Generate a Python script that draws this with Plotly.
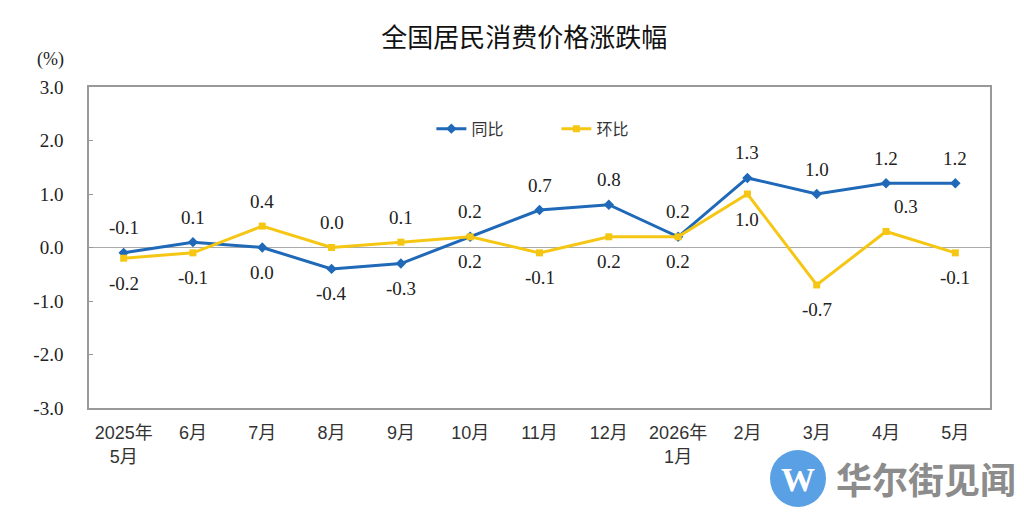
import plotly.graph_objects as go

categories = ["2025年<br>5月", "6月", "7月", "8月", "9月", "10月", "11月", "12月",
              "2026年<br>1月", "2月", "3月", "4月", "5月"]
yoy = [-0.1, 0.1, 0.0, -0.4, -0.3, 0.2, 0.7, 0.8, 0.2, 1.3, 1.0, 1.2, 1.2]
mom = [-0.2, -0.1, 0.4, 0.0, 0.1, 0.2, -0.1, 0.2, 0.2, 1.0, -0.7, 0.3, -0.1]
# label placement: +1 above the point, -1 below
yoy_side = [1, 1, -1, -1, -1, 1, 1, 1, 1, 1, 1, 1, 1]
mom_side = [-1, -1, 1, 1, 1, -1, -1, -1, -1, -1, -1, 1, -1]
mom_xshift = [0, 0, 0, 0, 0, 0, 0, 0, 0, 0, 0, 20, 0]
y_ticks = [3.0, 2.0, 1.0, 0.0, -1.0, -2.0, -3.0]

BLUE = "#1F69B8"
YELLOW = "#F5C714"
SERIF = "Liberation Serif, Noto Sans CJK SC"
SANS = "Liberation Sans, Noto Sans CJK SC"

x = list(range(len(categories)))
fig = go.Figure()
fig.add_trace(go.Scatter(
    x=x, y=yoy, name="同比", mode="lines+markers",
    line=dict(color=BLUE, width=3), marker=dict(symbol="diamond", size=8, color=BLUE)))
fig.add_trace(go.Scatter(
    x=x, y=mom, name="环比", mode="lines+markers",
    line=dict(color=YELLOW, width=3), marker=dict(symbol="square", size=7, color=YELLOW)))

for xi, v, s in zip(x, yoy, yoy_side):
    fig.add_annotation(x=xi, y=v, text=f"{v:.1f}", showarrow=False, yshift=25 * s,
                       font=dict(family=SERIF, size=19, color="#222"))
for xi, v, s, xs in zip(x, mom, mom_side, mom_xshift):
    fig.add_annotation(x=xi, y=v, text=f"{v:.1f}", showarrow=False, yshift=25 * s,
                       xshift=xs, font=dict(family=SERIF, size=19, color="#222"))

fig.update_layout(
    width=1024, height=516,
    margin=dict(l=89, r=34, t=87, b=108),
    paper_bgcolor="white", plot_bgcolor="white",
    title=dict(text="全国居民消费价格涨跌幅", x=0.512, xanchor="center", y=0.927, yanchor="middle",
               font=dict(family="Noto Sans CJK SC", size=26, color="#111")),
    legend=dict(orientation="h", x=0.38, y=0.87, xanchor="left", yanchor="middle",
                font=dict(family="Noto Sans CJK SC", size=16, color="#333"),
                bgcolor="rgba(0,0,0,0)", entrywidth=80, entrywidthmode="pixels"),
    showlegend=True,
)
fig.update_xaxes(
    range=[-0.5, len(categories) - 0.5], tickmode="array", tickvals=x, ticktext=categories,
    showline=True, linecolor="#999", linewidth=1.5, mirror=True, showgrid=False, ticks="",
    tickfont=dict(family=SANS, size=18, color="#333"), zeroline=False, ticklabelstandoff=8)
fig.update_yaxes(
    range=[-3, 3], tickmode="array", tickvals=y_ticks, ticktext=[f"{v:.1f}" for v in y_ticks],
    showline=True, linecolor="#999", linewidth=1.5, mirror=True, showgrid=False,
    ticks="inside", ticklen=4, tickcolor="#999",
    zeroline=True, zerolinecolor="#aaa", zerolinewidth=1,
    tickfont=dict(family=SERIF, size=19, color="#222"), ticklabelstandoff=20)

fig.add_annotation(text="(%)", xref="paper", yref="paper", x=-0.043, y=1.085,
                   xanchor="center", yanchor="middle", showarrow=False,
                   font=dict(family=SERIF, size=18, color="#222"))

# watermark
fig.add_shape(type="circle", xref="paper", yref="paper",
              x0=(770 - 89) / 901, x1=(826 - 89) / 901,
              y0=(408 - 507) / 321, y1=(408 - 450) / 321,
              fillcolor="#3D8FE0", line=dict(width=0), opacity=0.85)
fig.add_annotation(text="<b>W</b>", xref="paper", yref="paper", x=(798 - 89) / 901,
                   y=(408 - 479) / 321, xanchor="center", yanchor="middle", showarrow=False,
                   font=dict(family="Liberation Serif", size=34, color="white"))
fig.add_annotation(text="<b>华尔街见闻</b>", xref="paper", yref="paper", x=(834 - 89) / 901,
                   y=(408 - 478) / 321, xanchor="left", yanchor="middle", showarrow=False,
                   font=dict(family="Noto Sans CJK SC", size=36, color="#808080"), opacity=0.9)

fig.write_html("out.html")
